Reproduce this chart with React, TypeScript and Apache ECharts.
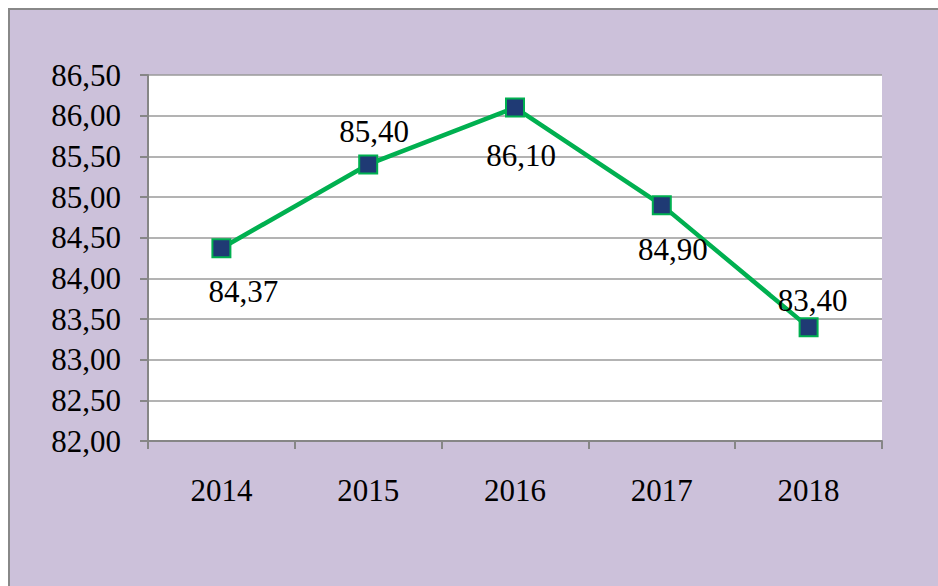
import React, { useEffect, useRef } from "react";
import * as echarts from "echarts";

const years = ["2014", "2015", "2016", "2017", "2018"];
const values = [84.37, 85.4, 86.1, 84.9, 83.4];
const labelOffsets: [number, number][] = [
  [22, 43],
  [6, -33],
  [6, 48],
  [11, 44],
  [4, -27],
];

const fmt = (v: number) => v.toFixed(2).replace(".", ",");
const FONT = "'Liberation Serif', 'Times New Roman', serif";

export default function App() {
  const ref = useRef<HTMLDivElement>(null);
  useEffect(() => {
    if (!ref.current) return;
    const chart = echarts.init(ref.current, undefined, { renderer: "svg" });
    chart.setOption({
      animation: false,
      backgroundColor: "#CCC1DA",
      textStyle: { fontFamily: FONT },
      grid: { left: 138, top: 65, right: 66, bottom: 157, containLabel: false, show: true, backgroundColor: "#FFFFFF", borderWidth: 0 },
      xAxis: {
        type: "category",
        data: years,
        boundaryGap: true,
        axisLine: { show: true, lineStyle: { color: "#868686", width: 2 } },
        axisTick: { show: true, length: 8, alignWithLabel: false, lineStyle: { color: "#868686", width: 2 } },
        axisLabel: { color: "#000", fontSize: 31, fontFamily: FONT, margin: 34 },
        splitLine: { show: false },
      },
      yAxis: {
        type: "value",
        min: 82,
        max: 86.5,
        interval: 0.5,
        axisLine: { show: true, lineStyle: { color: "#868686", width: 2 } },
        axisTick: { show: true, length: 8, lineStyle: { color: "#868686", width: 2 } },
        axisLabel: { color: "#000", fontSize: 31, fontFamily: FONT, margin: 27, formatter: (v: number) => fmt(v) },
        splitLine: { show: true, lineStyle: { color: "#9A9A9A", width: 1.5 } },
      },
      series: [
        {
          type: "line",
          data: values.map((v, i) => ({
            value: v,
            label: { offset: labelOffsets[i] },
          })),
          lineStyle: { color: "#00B050", width: 4.5 },
          symbol: "rect",
          symbolSize: 18,
          itemStyle: { color: "#1F3A74", borderColor: "#00B050", borderWidth: 2 },
          label: {
            show: true,
            position: "inside",
            color: "#000",
            fontSize: 31,
            fontFamily: FONT,
            formatter: (p: any) => fmt(p.value),
          },
          z: 3,
        },
      ],
    });
    return () => chart.dispose();
  }, []);
  return (
    <div
      ref={ref}
      style={{
        position: "fixed",
        left: 8,
        top: 8,
        width: 940,
        height: 590,
        boxSizing: "border-box",
        borderTop: "2px solid #888",
        borderLeft: "2px solid #888",
      }}
    />
  );
}
